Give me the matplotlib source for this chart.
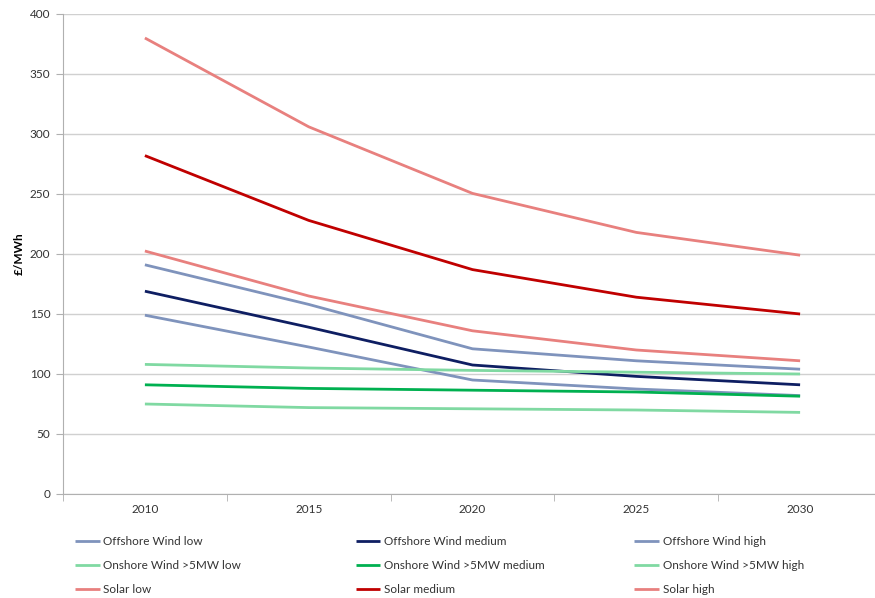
import matplotlib
matplotlib.use("Agg")
import matplotlib.pyplot as plt

plt.rcParams['font.family'] = ['Lato', 'DejaVu Sans']

years = ["2010", "2015", "2020", "2025", "2030"]

offshore_low = [149, 122.5, 95, 87.5, 82]
offshore_medium = [169, 139, 107.5, 98, 91]
offshore_high = [191, 158, 121, 111, 104]
onshore_low = [75, 72, 71, 70, 68]
onshore_medium = [91, 88, 86.5, 85, 81.5]
onshore_high = [108, 105, 103, 101.5, 100]
solar_low = [202.5, 165, 136, 120, 111]
solar_medium = [282, 228, 187, 164, 150]
solar_high = [380, 306, 250.5, 218, 199]

series = [
    ("Offshore Wind low", offshore_low, "#7F93BC"),
    ("Offshore Wind medium", offshore_medium, "#0E1E62"),
    ("Offshore Wind high", offshore_high, "#7F93BC"),
    ("Onshore Wind >5MW low", onshore_low, "#80D9A2"),
    ("Onshore Wind >5MW medium", onshore_medium, "#00B050"),
    ("Onshore Wind >5MW high", onshore_high, "#80D9A2"),
    ("Solar low", solar_low, "#E8807E"),
    ("Solar medium", solar_medium, "#C00000"),
    ("Solar high", solar_high, "#E8807E"),
]

W, H = 875, 598
fig = plt.figure(figsize=(W / 100, H / 100), dpi=100)
left_px, right_px, top_px, bot_px = 63, 882, 14, 494
ax = fig.add_axes([left_px / W, 1 - bot_px / H, (right_px - left_px) / W, (bot_px - top_px) / H])

x = list(range(len(years)))
handles = []
for name, vals, col in series:
    h, = ax.plot(x, vals, color=col, lw=2, label=name, solid_capstyle='butt')
    handles.append(h)

ax.set_xlim(-0.5, len(years) - 0.5)
ax.set_ylim(0, 400)
ax.set_yticks(range(0, 401, 50))
ax.set_xticks(x)
ax.set_xticklabels(years)
ax.set_xticks([i + 0.5 for i in range(-1, len(years))], minor=True)
ax.tick_params(axis='x', which='major', length=0, pad=7, labelsize=8.5, colors='#333333')
ax.tick_params(axis='x', which='minor', length=5, color='#B0B0B0', direction='out')
ax.tick_params(axis='y', length=5, color='#B0B0B0', labelsize=8.5, colors='#333333', pad=4)
ax.yaxis.grid(True, color='#D0D0D0', lw=1)
ax.set_axisbelow(True)
for s in ['top', 'right']:
    ax.spines[s].set_visible(False)
for s in ['left', 'bottom']:
    ax.spines[s].set_color('#B0B0B0')
ax.set_ylabel("£/MWh", fontsize=8.5, fontweight='bold')
ax.yaxis.set_label_coords(-0.0464, 0.5)

col_x = [0.0855, 0.4063, 0.7251]
for c in range(3):
    hs = [handles[c], handles[c + 3], handles[c + 6]]
    leg = fig.legend(handles=hs, loc='upper left', bbox_to_anchor=(col_x[c], 0.103),
                     frameon=False, fontsize=8.5, handlelength=2.1, handletextpad=0.3,
                     labelspacing=1.08, borderaxespad=0, borderpad=0)
    for t in leg.get_texts():
        t.set_color('#333333')

fig.savefig("out.png", dpi=100)
